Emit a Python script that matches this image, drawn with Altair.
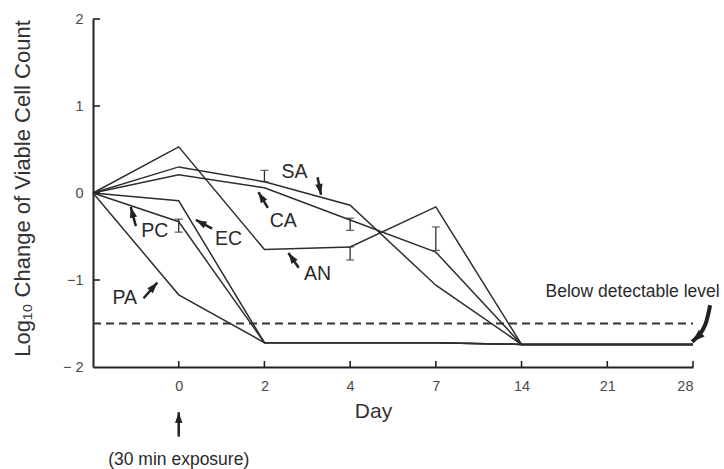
import math
import altair as alt
import pandas as pd

# ---------------- data ----------------
positions = [-1, 0, 1, 2, 3, 4, 5, 6]          # -1 = pre-exposure start
day_labels = ["0", "2", "4", "7", "14", "21", "28"]

SA = [0, 0.30, 0.13, -0.14, -1.06, -1.74, -1.74, -1.74]
CA = [0, 0.21, 0.06, -0.31, -0.68, -1.74, -1.74, -1.74]
AN = [0, 0.53, -0.65, -0.62, -0.16, -1.74, -1.74, -1.74]
PA = [0, -1.17, -1.72, -1.72, -1.72, -1.74, -1.74, -1.74]
PC = [0, -0.33, -1.72, -1.72, -1.72, -1.74, -1.74, -1.74]
EC = [0, -0.09, -1.72, -1.72, -1.72, -1.74, -1.74, -1.74]
series = {"SA": SA, "CA": CA, "AN": AN, "PA": PA, "PC": PC, "EC": EC}

detect_level = -1.5

# error bars: series, position, low, high
err_series = ["SA", "PC", "CA", "AN", "CA"]
err_pos = [1, 0, 2, 2, 3]
err_lo = [0.13, -0.45, -0.43, -0.77, -0.66]
err_hi = [0.26, -0.30, -0.29, -0.62, -0.39]

# series labels
lab_text = ["SA", "CA", "PC", "EC", "AN", "PA"]
lab_pos = [1.35, 1.22, -0.28, 0.58, 1.62, -0.63]
lab_val = [0.24, -0.32, -0.44, -0.53, -0.93, -1.21]

# label arrows: tail -> tip (data coordinates)
arr_tail_pos = [1.62, 1.04, -0.50, 0.39, 1.40, -0.41, 0.00]
arr_tail_val = [0.18, -0.17, -0.38, -0.41, -0.86, -1.21, -2.80]
arr_tip_pos = [1.66, 0.93, -0.56, 0.20, 1.28, -0.25, 0.00]
arr_tip_val = [-0.02, 0.01, -0.16, -0.31, -0.69, -1.03, -2.52]

# curved arrow for "Below detectable level"
curve_pos = [6.20, 6.15, 6.07]
curve_val = [-1.29, -1.53, -1.64]
curve_tip = (5.99, -1.71)

# ---------------- layout ----------------
W, H = 600, 348
PX_X = W / 7.0      # pixels per position unit
PX_Y = H / 4.0      # pixels per log unit

x_scale = alt.Scale(domain=[-1, 6], nice=False, zero=False)
y_scale = alt.Scale(domain=[-2, 2], nice=False, zero=False)
FONT = "Liberation Sans"
INK = "#2e2e2e"

x_axis = alt.Axis(
    values=list(range(7)),
    labelExpr="['0','2','4','7','14','21','28'][datum.value]",
    ticks=False, grid=False,
    domainColor="#222222", domainWidth=2,
    labelFont=FONT, labelFontSize=14.5, labelColor="#4a4a4a", labelPadding=12,
    title="Day", titleFont=FONT, titleFontSize=21, titleFontWeight="normal",
    titleColor="#333333", titleX=280, titleY=44, titleAlign="center",
    titleBaseline="middle",
)
y_axis = alt.Axis(
    values=[-2, -1, 0, 1, 2],
    labelExpr="datum.value == -2 ? '\u2212 2' : datum.value == -1 ? '\u22121' : format(datum.value, 'd')",
    ticks=False, grid=False,
    domainColor="#222222", domainWidth=2,
    labelFont=FONT, labelFontSize=14.5, labelColor="#4a4a4a", labelPadding=10,
    title="Log\u2081\u2080 Change of Viable Cell Count", titleFont=FONT,
    titleFontSize=22, titleFontWeight="normal", titleColor="#333333",
    titleX=-71, titleY=169, titleAngle=270, titleAlign="center",
    titleBaseline="middle",
)


def X(f):
    return alt.X(f, type="quantitative", scale=x_scale, axis=x_axis)


def Y(f):
    return alt.Y(f, type="quantitative", scale=y_scale, axis=y_axis)


rows = []
for name, vals in series.items():
    for p, v in zip(positions, vals):
        rows.append({"series": name, "pos": p, "val": v})
lines_df = pd.DataFrame(rows)

lines = alt.Chart(lines_df).mark_line(color=INK, strokeWidth=1.5).encode(
    x=X("pos"), y=Y("val"), detail="series:N",
)

# inward ticks
xt_df = pd.DataFrame({"pos": list(range(7))})
x_ticks = alt.Chart(xt_df).mark_rule(color="#222222", strokeWidth=1.6).encode(
    x=X("pos"), y=alt.value(H), y2=alt.value(H - 6),
)
yt_df = pd.DataFrame({"val": [-1, 0, 1, 2]})
y_ticks = alt.Chart(yt_df).mark_rule(color="#222222", strokeWidth=1.6).encode(
    y=Y("val"), x=alt.value(0), x2=alt.value(7),
)

# detection level
det_df = pd.DataFrame({"p1": [-1], "p2": [6], "v": [detect_level]})
det = alt.Chart(det_df).mark_rule(color="#333333", strokeWidth=2, strokeDash=[8, 5]).encode(
    x=X("p1"), x2="p2:Q", y=Y("v"),
)

# error bars
err_df = pd.DataFrame({"series": err_series, "pos": err_pos, "lo": err_lo, "hi": err_hi})
err_rule = alt.Chart(err_df).mark_rule(color=INK, strokeWidth=1.3).encode(
    x=X("pos"), y=Y("lo"), y2="hi:Q",
)
cap_rows = []
for p, lo, hi in zip(err_pos, err_lo, err_hi):
    cap_rows.append({"pos": p, "v": lo})
    cap_rows.append({"pos": p, "v": hi})
cap_df = pd.DataFrame(cap_rows)
caps = alt.Chart(cap_df).mark_tick(color=INK, orient="horizontal", size=8, thickness=1.3).encode(
    x=X("pos"), y=Y("v"),
)

# labels
lab_df = pd.DataFrame({"t": lab_text, "pos": lab_pos, "v": lab_val})
labels = alt.Chart(lab_df).mark_text(font=FONT, fontSize=19.5, color="#2a2a2a",
                                     align="center", baseline="middle").encode(
    x=X("pos"), y=Y("v"), text="t:N",
)
note_df = pd.DataFrame({"t": ["Below detectable level"], "pos": [4.28], "v": [-1.14]})
note = alt.Chart(note_df).mark_text(font=FONT, fontSize=17.5, color="#2a2a2a",
                                    align="left", baseline="middle").encode(
    x=X("pos"), y=Y("v"), text="t:N",
)
exp_df = pd.DataFrame({"t": ["(30 min exposure)"], "pos": [0.0], "v": [-3.07]})
exposure = alt.Chart(exp_df).mark_text(font=FONT, fontSize=17.5, color="#2a2a2a",
                                       align="center", baseline="middle").encode(
    x=X("pos"), y=Y("v"), text="t:N",
)


def heading(dp, dv):
    a = math.degrees(math.atan2(dp * PX_X, dv * PX_Y))
    return a % 360


arr_df = pd.DataFrame({
    "p1": arr_tail_pos, "v1": arr_tail_val, "p2": arr_tip_pos, "v2": arr_tip_val,
})
arr_df["angle"] = [heading(b - a, d - c) for a, c, b, d in
                   zip(arr_tail_pos, arr_tail_val, arr_tip_pos, arr_tip_val)]
arr_lines = alt.Chart(arr_df).mark_rule(color="#222222", strokeWidth=2.5).encode(
    x=X("p1"), x2="p2:Q", y=Y("v1"), y2="v2:Q",
)
HEAD = "M0,0L0.65,1.9L-0.65,1.9Z"
arr_heads = alt.Chart(arr_df).mark_point(shape=HEAD, filled=True, color="#222222",
                                         size=130, opacity=1, strokeWidth=0).encode(
    x=X("p2"), y=Y("v2"), angle=alt.Angle("angle:Q", scale=None),
)

curve_df = pd.DataFrame({"pos": curve_pos + [curve_tip[0]],
                         "v": curve_val + [curve_tip[1]],
                         "o": list(range(len(curve_pos) + 1))})
curve = alt.Chart(curve_df).mark_line(color="#222222", strokeWidth=4,
                                      interpolate="basis").encode(
    x=X("pos"), y=Y("v"), order="o:Q",
)
ctip_df = pd.DataFrame({"pos": [curve_tip[0]], "v": [curve_tip[1]],
                        "angle": [heading(curve_tip[0] - curve_pos[-1],
                                          curve_tip[1] - curve_val[-1])]})
ctip = alt.Chart(ctip_df).mark_point(shape=HEAD, filled=True, color="#222222",
                                     size=180, opacity=1, strokeWidth=0).encode(
    x=X("pos"), y=Y("v"), angle=alt.Angle("angle:Q", scale=None),
)

chart = alt.layer(
    lines, det, x_ticks, y_ticks, err_rule, caps, labels, note, exposure,
    arr_lines, arr_heads, curve, ctip,
).properties(
    width=W, height=H,
    autosize=alt.AutoSizeParams(type="none"),
    padding={"left": 93, "top": 19, "right": 31, "bottom": 102},
    background="white",
).configure_view(strokeWidth=0)

chart.save("out.html", embed_options={"renderer": "svg", "actions": False})
